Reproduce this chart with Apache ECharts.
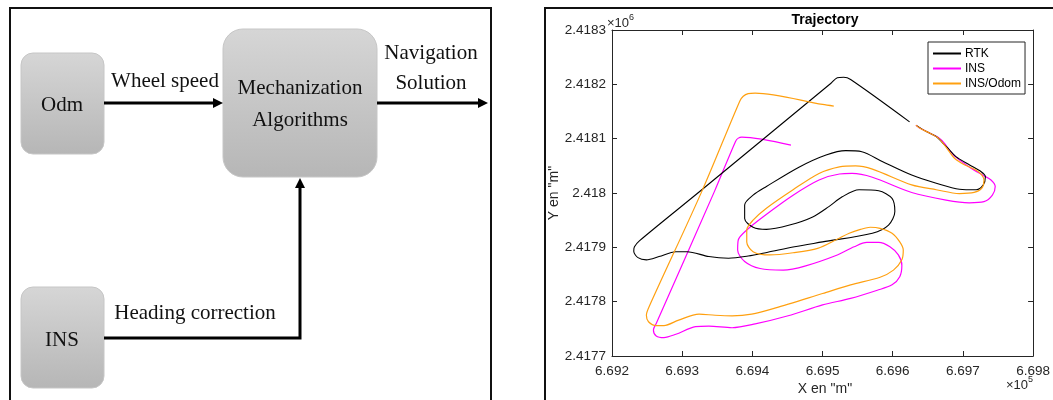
<!DOCTYPE html>
<html>
<head>
<meta charset="utf-8">
<script src="https://cdn.jsdelivr.net/npm/echarts@6/dist/echarts.min.js"></script>
<style>
html,body{margin:0;padding:0;background:#fff;}
#c{width:1053px;height:400px;}
</style>
</head>
<body>
<div id="c"></div>
<script>
// ---- data (metres) ----
const rtkX = [669624,669540,669530,669521,669512,669328,669239,669232,669231,669237,669249,669267,669291,669307,669338,669366,669394,669422,669460,669500,669571,669594,669603,669599,669580,669552,669528,669509,669486,669453,669420,669401,669389,669389,669401,669420,669467,669505,669533,669556,669585,669627,669662,669695,669719,669729,669732,669726,669709,669690,669679,669672,669662,669648,669634];
const rtkY = [2418131,2418209,2418213,2418212,2418202,2418006,2417912,2417901,2417893,2417881,2417877,2417883,2417892,2417892,2417883,2417880,2417884,2417891,2417901,2417910,2417926,2417941,2417966,2417990,2418004,2418006,2417993,2417975,2417956,2417941,2417933,2417937,2417953,2417978,2417996,2418012,2418048,2418070,2418078,2418076,2418058,2418033,2418018,2418007,2418006,2418015,2418030,2418039,2418052,2418067,2418082,2418091,2418104,2418113,2418124];

const insX = [669455,669385,669380,669376,669346,669263,669259,669263,669274,669291,669319,669338,669371,669404,669451,669500,669540,669578,669599,669610,669613,669608,669596,669580,669563,669545,669521,669476,669444,669411,669389,669379,669380,669392,669415,669458,669495,669524,669542,669571,669627,669676,669709,669730,669742,669746,669740,669728,669709,669690,669680,669674,669665,669653,669639,669633];
const insY = [2418088,2418103,2418101,2418095,2418003,2417760,2417748,2417737,2417734,2417740,2417754,2417755,2417752,2417759,2417774,2417794,2417806,2417821,2417831,2417846,2417867,2417886,2417901,2417909,2417909,2417901,2417886,2417866,2417858,2417861,2417874,2417895,2417914,2417932,2417956,2417996,2418024,2418035,2418036,2418029,2418001,2417987,2417982,2417984,2417996,2418012,2418024,2418033,2418048,2418066,2418080,2418091,2418102,2418110,2418119,2418125];

const odomX = [669516,669500,669404,669394,669387,669382,669328,669253,669249,669252,669263,669274,669295,669324,669347,669371,669399,669432,669500,669540,669582,669601,669613,669615,669610,669599,669582,669568,669554,669538,669521,669493,669458,669425,669401,669392,669392,669401,669420,669458,669495,669524,669547,669571,669627,669662,669695,669716,669727,669730,669727,669719,669702,669688,669679,669672,669665,669653,669639,669633];
const odomY = [2418160,2418163,2418184,2418183,2418178,2418169,2418003,2417791,2417775,2417763,2417756,2417756,2417766,2417777,2417775,2417774,2417777,2417788,2417815,2417831,2417845,2417858,2417877,2417895,2417910,2417926,2417935,2417937,2417933,2417926,2417915,2417898,2417890,2417886,2417892,2417910,2417932,2417950,2417972,2418006,2418036,2418048,2418050,2418044,2418015,2418006,2417999,2418001,2418009,2418024,2418033,2418042,2418052,2418064,2418079,2418091,2418101,2418110,2418119,2418125];

const seriesNames = ['RTK','INS','INS/Odom'];
const xMin = 669200, xMax = 669800, xStep = 100;
const yMin = 2417700, yMax = 2418300, yStep = 100;

function pairs(xs, ys){ return xs.map((x,i)=>[x, ys[i]]); }

const chart = echarts.init(document.getElementById('c'), null, {renderer:'canvas'});
const serif = '"Liberation Serif", "DejaVu Serif", serif';
const sans = '"Liberation Sans", Arial, sans-serif';

function grad(){
  return new echarts.graphic.LinearGradient(0,0,0,1,[{offset:0,color:'#d6d6d6'},{offset:1,color:'#b6b6b6'}]);
}
function box(x,y,w,h,r){
  return {type:'rect', shape:{x:x,y:y,width:w,height:h,r:r}, style:{fill:grad(), stroke:'#c6c6c6', lineWidth:1}};
}
function txt(t,x,y){
  return {type:'text', x:x, y:y, style:{text:t, font:'21px '+serif, fill:'#111', textAlign:'center', textVerticalAlign:'middle'}};
}
const arrowStyle = {stroke:'#000', lineWidth:3, fill:null};
const headStyle = {fill:'#000'};

const graphic = [
  // left panel frame
  {type:'rect', shape:{x:10,y:8,width:481,height:400}, style:{fill:null, stroke:'#111', lineWidth:2}},
  // right panel frame
  {type:'rect', shape:{x:545,y:8,width:520,height:400}, style:{fill:null, stroke:'#111', lineWidth:2}},
  box(21,53,83,101,12),
  box(223,29,154,148,20),
  box(21,287,83,101,12),
  {type:'polyline', shape:{points:[[104,103],[215,103]]}, style:arrowStyle},
  {type:'polygon', shape:{points:[[223,103],[213,98],[213,108]]}, style:headStyle},
  {type:'polyline', shape:{points:[[377,103],[480,103]]}, style:arrowStyle},
  {type:'polygon', shape:{points:[[488,103],[478,98],[478,108]]}, style:headStyle},
  {type:'polyline', shape:{points:[[104,338],[300,338],[300,186]]}, style:arrowStyle},
  {type:'polygon', shape:{points:[[300,178],[295,188],[305,188]]}, style:headStyle},
  txt('Odm',62,105),
  txt('Wheel speed',165,81),
  txt('Mechanization',300,88),
  txt('Algorithms',300,120),
  txt('Navigation',431,53),
  txt('Solution',431,83),
  txt('Heading correction',195,313),
  txt('INS',62,340),
  // chart texts
  {type:'text', x:825, y:20, style:{text:'Trajectory', font:'bold 14px '+sans, fill:'#000', textAlign:'center', textVerticalAlign:'middle'}},
  {type:'text', x:825, y:389, style:{text:'X en "m"', font:'14px '+sans, fill:'#262626', textAlign:'center', textVerticalAlign:'middle'}},
  {type:'text', x:554, y:193, rotation:Math.PI/2, style:{text:'Y en "m"', font:'14px '+sans, fill:'#262626', textAlign:'center', textVerticalAlign:'middle'}},
  {type:'text', x:607, y:23, style:{text:'{a|×10}{b|6}', textVerticalAlign:'middle', rich:{a:{font:'13px '+sans, fill:'#262626'}, b:{font:'9px '+sans, fill:'#262626', padding:[0,0,10,0]}}}},
  {type:'text', x:1006, y:385, style:{text:'{a|×10}{b|5}', textVerticalAlign:'middle', rich:{a:{font:'13px '+sans, fill:'#262626'}, b:{font:'9px '+sans, fill:'#262626', padding:[0,0,10,0]}}}}
];

function yFmt(v){ return String(parseFloat((v/1e6).toFixed(4))); }
function xFmt(v){ return (v/1e5).toFixed(3); }

const axisLineStyle = {lineStyle:{color:'#262626', width:1}};
const option = {
  animation:false,
  backgroundColor:'#fff',
  graphic: graphic,
  grid:{left:612, right:15, top:30, bottom:44, containLabel:false},
  legend:{
    data:seriesNames, orient:'vertical', left:928, top:42,
    icon:'rect', itemWidth:28, itemHeight:2, itemGap:2,
    padding:[5,4,4,5], borderColor:'#262626', borderWidth:1, backgroundColor:'#fff',
    textStyle:{fontFamily:sans, fontSize:12, color:'#000', lineHeight:13, padding:[0,0,0,-1]}
  },
  xAxis:[
    {type:'value', position:'bottom', min:xMin, max:xMax, interval:xStep,
     axisLine:axisLineStyle, axisTick:{inside:true, length:5, lineStyle:{color:'#262626'}},
     axisLabel:{formatter:xFmt, fontFamily:sans, fontSize:13.5, color:'#262626', margin:8, showMaxLabel:true},
     splitLine:{show:false}},
    {type:'value', position:'top', min:xMin, max:xMax, interval:xStep,
     axisLine:axisLineStyle, axisTick:{inside:true, length:5, lineStyle:{color:'#262626'}},
     axisLabel:{show:false}, splitLine:{show:false}}
  ],
  yAxis:[
    {type:'value', position:'left', min:yMin, max:yMax, interval:yStep,
     axisLine:{show:true, lineStyle:{color:'#262626', width:1}}, axisTick:{show:true, inside:true, length:5, lineStyle:{color:'#262626'}},
     axisLabel:{formatter:yFmt, fontFamily:sans, fontSize:13.5, color:'#262626', margin:6},
     splitLine:{show:false}},
    {type:'value', position:'right', min:yMin, max:yMax, interval:yStep,
     axisLine:{show:true, lineStyle:{color:'#262626', width:1}}, axisTick:{show:true, inside:true, length:5, lineStyle:{color:'#262626'}},
     axisLabel:{show:false}, splitLine:{show:false}}
  ],
  series:[
    {name:'RTK', type:'line', data:pairs(rtkX,rtkY), showSymbol:false, smooth:0.3, color:'#000000', lineStyle:{width:1.1, color:'#000000'}, z:3},
    {name:'INS', type:'line', data:pairs(insX,insY), showSymbol:false, smooth:0.3, color:'#ff00ff', lineStyle:{width:1.2, color:'#ff00ff'}, z:2},
    {name:'INS/Odom', type:'line', data:pairs(odomX,odomY), showSymbol:false, smooth:0.3, color:'#ffa010', lineStyle:{width:1.2, color:'#ffa010'}, z:4}
  ]
};
chart.setOption(option);
</script>
</body>
</html>
